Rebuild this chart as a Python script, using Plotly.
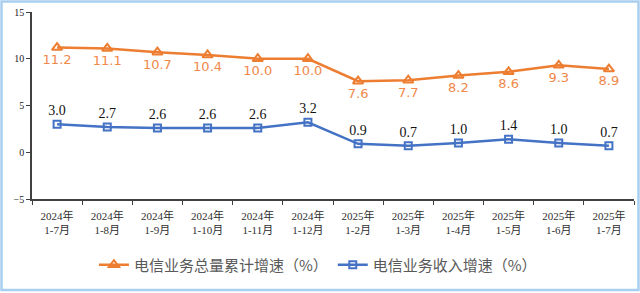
import plotly.graph_objects as go

categories = ["2024年<br>1-7月", "2024年<br>1-8月", "2024年<br>1-9月", "2024年<br>1-10月",
              "2024年<br>1-11月", "2024年<br>1-12月", "2025年<br>1-2月", "2025年<br>1-3月",
              "2025年<br>1-4月", "2025年<br>1-5月", "2025年<br>1-6月", "2025年<br>1-7月"]
total_volume_growth = [11.2, 11.1, 10.7, 10.4, 10.0, 10.0, 7.6, 7.7, 8.2, 8.6, 9.3, 8.9]
revenue_growth = [3.0, 2.7, 2.6, 2.6, 2.6, 3.2, 0.9, 0.7, 1.0, 1.4, 1.0, 0.7]
y_ticks = [-5, 0, 5, 10, 15]

ORANGE = "#ED7D31"
BLUE = "#4472C4"

fig = go.Figure()
fig.add_trace(go.Scatter(
    x=categories, y=total_volume_growth, name="电信业务总量累计增速（%）",
    mode="lines+markers+text",
    line=dict(color=ORANGE, width=2.5),
    marker=dict(symbol="triangle-up-open", size=9, color=ORANGE, line=dict(width=2, color=ORANGE)),
    text=[f"{v:.1f}" for v in total_volume_growth], textposition="bottom center",
    textfont=dict(family="DejaVu Sans", size=13, color="#F0884A"),
))
fig.add_trace(go.Scatter(
    x=categories, y=revenue_growth, name="电信业务收入增速（%）",
    mode="lines+markers+text",
    line=dict(color=BLUE, width=2.5),
    marker=dict(symbol="square-open", size=7, color=BLUE, line=dict(width=2, color=BLUE)),
    text=[f"{v:.1f}" for v in revenue_growth], textposition="top center",
    textfont=dict(family="Liberation Serif", size=14, color="#111111"),
))

L, R, T, B = 32, 6, 12, 94
W, H = 640, 293
pw, ph = W - L - R, H - T - B

fig.update_layout(
    width=W, height=H,
    margin=dict(l=L, r=R, t=T, b=B),
    paper_bgcolor="white", plot_bgcolor="white",
    showlegend=True,
    legend=dict(orientation="h", x=0.475, xanchor="center", y=(T + ph - 265) / ph, yanchor="middle",
                font=dict(family="Noto Sans CJK SC", size=15, color="#595959"),
                itemwidth=30, traceorder="normal"),
    shapes=[dict(type="rect", xref="paper", yref="paper",
                 x0=(1.5 - L) / pw, x1=(638.5 - L) / pw,
                 y0=(T + ph - 290) / ph, y1=(T + ph - 1.5) / ph,
                 line=dict(color="#A9CFF0", width=2.5), fillcolor="rgba(0,0,0,0)", layer="below")],
)
fig.update_xaxes(
    type="category", showgrid=False, showline=True, linecolor="#404040", linewidth=1.5,
    ticks="outside", ticklen=4, tickcolor="#404040", tickson="boundaries",
    tickfont=dict(family="Liberation Serif, Noto Sans CJK SC", size=11, color="#303030"),
    ticklabelstandoff=6,
    range=[-0.5, len(categories) - 0.5],
)
fig.update_yaxes(
    range=[-5, 15], tickvals=y_ticks, showgrid=False, zeroline=False,
    showline=True, linecolor="#404040", linewidth=1.5,
    ticks="outside", ticklen=4, tickcolor="#404040",
    tickfont=dict(family="Liberation Serif", size=10, color="#202020"),
)

fig.write_html("out.html")
